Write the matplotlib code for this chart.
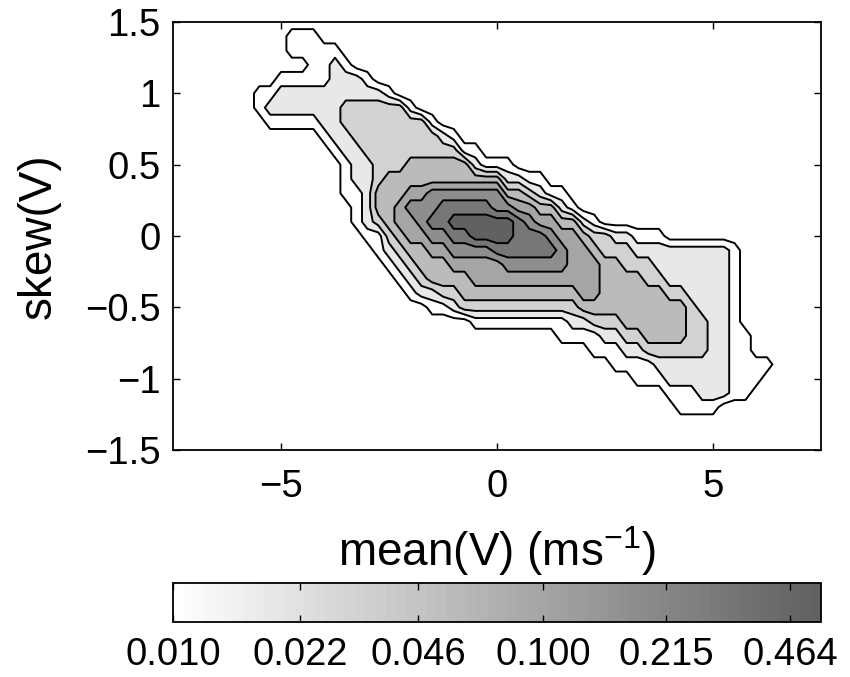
import numpy as np
import matplotlib
matplotlib.use("Agg")
import matplotlib.pyplot as plt
from matplotlib.colors import LinearSegmentedColormap, Normalize
from matplotlib.cm import ScalarMappable

plt.rcParams['font.family'] = ['Liberation Sans', 'DejaVu Sans']
plt.rcParams['mathtext.fontset'] = 'custom'
plt.rcParams['mathtext.rm'] = 'Liberation Sans'

# bin centres
mean_v = np.arange(-7.0, 7.001, 0.25)             # 57 columns
skew_v = np.round(np.arange(1.5, -1.501, -0.1), 2)  # 31 rows, top to bottom

# contour band of the joint pdf in each bin
# 0 = below 0.01, 1 = 0.010-0.018, 2 = 0.018-0.032, ... 8 = above 0.56 (steps of 10^0.25)
band_rows = [
    "000000000000000000000000000000000000000000000000000000000",  # 1.5
    "000000000111000000000000000000000000000000000000000000000",  # 1.4
    "000000000111110000000000000000000000000000000000000000000",  # 1.3
    "000000000001121000000000000000000000000000000000000000000",  # 1.2
    "000000001111122210000000000000000000000000000000000000000",  # 1.1
    "000000112222222222100000000000000000000000000000000000000",  # 1.0
    "000000122222223333331000000000000000000000000000000000000",  # 0.9
    "000000011111223333333310000000000000000000000000000000000",  # 0.8
    "000000000000122333333332100000000000000000000000000000000",  # 0.7
    "000000000000012233333333311000000000000000000000000000000",  # 0.6
    "000000000000001223334444442111000000000000000000000000000",  # 0.5
    "000000000000001223444444444442211000000000000000000000000",  # 0.4
    "000000000000001124445566666664432110000000000000000000000",  # 0.3
    "000000000000000124456667777766554421000000000000000000000",  # 0.2
    "000000000000000123455677888888765544210000000000000000000",  # 0.1
    "000000000000000011345566778888777655433221110000000000000",  # 0.0
    "000000000000000001234455666677777765543332222222221000000",  # -0.1
    "000000000000000000123444555556666665554433322222221000000",  # -0.2
    "000000000000000000012344445555555555554444332222221000000",  # -0.3
    "000000000000000000001223344444444444554444443322221000000",  # -0.4
    "000000000000000000000011233333333333444444444432221000000",  # -0.5
    "000000000000000000000000001111111112233344444433221000000",  # -0.6
    "000000000000000000000000000000000011112233444433221100000",  # -0.7
    "000000000000000000000000000000000000011122333333221100000",  # -0.8
    "000000000000000000000000000000000000000111122222221111000",  # -0.9
    "000000000000000000000000000000000000000001112222221110000",  # -1.0
    "000000000000000000000000000000000000000000001112221100000",  # -1.1
    "000000000000000000000000000000000000000000000111100000000",  # -1.2
    "000000000000000000000000000000000000000000000000000000000",  # -1.3
    "000000000000000000000000000000000000000000000000000000000",  # -1.4
    "000000000000000000000000000000000000000000000000000000000",  # -1.5
]

cbar_ticks = [0.010, 0.022, 0.046, 0.100, 0.215, 0.464]

band = np.array([[int(c) for c in r] for r in band_rows])
levels = -2 + 0.25 * np.arange(8)          # log10 of contour levels
logp = -2.125 + 0.25 * band[::-1]          # mid value of each band
yy = skew_v[::-1]

vmin, vmax = -2.0, -0.25
cmap = LinearSegmentedColormap.from_list('greys', [(1, 1, 1), (0.38, 0.38, 0.38)], N=64)
norm = Normalize(vmin, vmax)
fills = [cmap(norm(l)) for l in levels]

fig = plt.figure(figsize=(8.5, 6.77), dpi=100)
ax = fig.add_axes([173 / 850, 1 - 450 / 677, 648 / 850, 428 / 677])
ax.contourf(mean_v, yy, logp, levels=list(levels) + [0], colors=fills)
ax.contour(mean_v, yy, logp, levels=levels, colors='k', linewidths=1.4, linestyles='solid')
ax.set_xlim(-7.5, 7.5)
ax.set_ylim(-1.5, 1.5)
ax.set_xticks([-5, 0, 5])
ax.set_xticklabels(['\u22125', '0', '5'])
ax.set_yticks([1.5, 1, 0.5, 0, -0.5, -1, -1.5])
ax.set_yticklabels(['1.5', '1', '0.5', '0', '\u22120.5', '\u22121', '\u22121.5'])
ax.tick_params(direction='in', top=True, right=True, length=5, width=1, labelsize=27.5)
ax.tick_params(axis='x', pad=14)
ax.tick_params(axis='y', pad=9)
for s in ax.spines.values():
    s.set_linewidth(1.3)
ax.set_xlabel('mean(V) (ms$^{\\mathregular{-1}}$)', fontsize=33, va='center')
ax.xaxis.set_label_coords(0.5, -0.235)
ax.set_ylabel('skew(V)', fontsize=33, va='center')
ax.yaxis.set_label_coords(-0.207, 0.5)

# colour bar on a log10 scale, labelled with the pdf values
cax = fig.add_axes([173 / 850, 1 - 622 / 677, 648 / 850, 39 / 677])
cb = fig.colorbar(ScalarMappable(norm=norm, cmap=cmap), cax=cax, orientation='horizontal')
cb.set_ticks(np.log10(cbar_ticks))
cb.set_ticklabels(['%.3f' % t for t in cbar_ticks])
cax.tick_params(direction='in', top=True, bottom=True, length=5, width=1, labelsize=27.5, pad=11)
cb.outline.set_linewidth(1.3)

fig.savefig('out.png', dpi=100)
